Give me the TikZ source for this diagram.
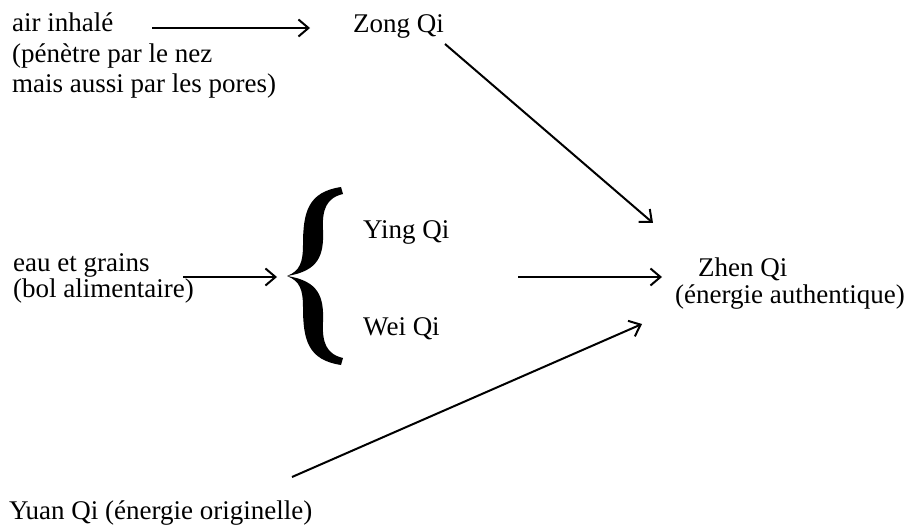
\documentclass[tikz,border=0pt]{standalone}
\usepackage{fontspec}
\setmainfont{Liberation Serif}
\usetikzlibrary{arrows.meta}
\begin{document}
\begin{tikzpicture}[x=1pt,y=-1pt,
  lbl/.style={anchor=base west,inner sep=0pt,font=\fontsize{27}{30}\selectfont},
  arr/.style={line width=2pt,-{Straight Barb[length=10pt,width=17pt,line width=2pt]}}]
\useasboundingbox (0,0) rectangle (909,529);
% texts
\node[lbl] (air1) at (12,32) {air inhalé};
\node[lbl] (air2) at (12,63) {(pénètre par le nez};
\node[lbl] (air3) at (12,93) {mais aussi par les pores)};
\node[lbl] (zong) at (353,33) {Zong Qi};
\node[lbl] (eau1) at (13,271) {eau et grains};
\node[lbl] (eau2) at (13,297) {(bol alimentaire)};
\node[lbl] (ying) at (363,238) {Ying Qi};
\node[lbl] (wei) at (363,335) {Wei Qi};
\node[lbl] (zhen1) at (698,276) {Zhen Qi};
\node[lbl] (zhen2) at (675,303) {(énergie authentique)};
\node[lbl] (yuan) at (9,519) {Yuan Qi (énergie originelle)};
% brace
\fill (287,276) .. controls (300,271) and (303,262) .. (303,245)
  .. controls (303,212) and (308,192) .. (341,187) -- (343,194)
  .. controls (326,198) and (322,210) .. (323,230)
  .. controls (324,255) and (319,271) .. (287,276) -- cycle;
\fill (287,276) .. controls (300,281) and (303,290) .. (303,307)
  .. controls (303,340) and (308,360) .. (341,365) -- (343,358)
  .. controls (326,354) and (322,342) .. (323,322)
  .. controls (324,297) and (319,281) .. (287,276) -- cycle;
% connector ends
\coordinate (a1) at (152,28);
\coordinate (a2) at (310,28);
\coordinate (b1) at (445,44);
\coordinate (b2) at (653,223);
\coordinate (c1) at (183,277);
\coordinate (c2) at (277,277);
\coordinate (d1) at (518,277);
\coordinate (d2) at (662,277);
\coordinate (e1) at (292,477);
\coordinate (e2) at (642,324);
\draw[arr] (a1) -- (a2);
\draw[arr] (b1) -- (b2);
\draw[arr] (c1) -- (c2);
\draw[arr] (d1) -- (d2);
\draw[arr] (e1) -- (e2);
\end{tikzpicture}
\end{document}
